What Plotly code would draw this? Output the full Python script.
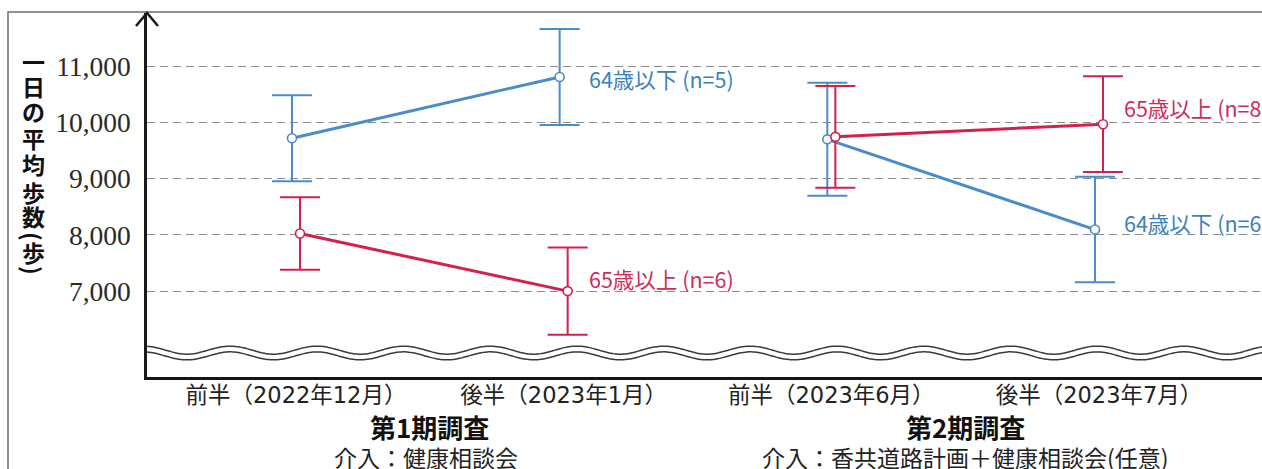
import numpy as np
import plotly.graph_objects as go

# ---------------- data ----------------
periods = ["前半（2022年12月）", "後半（2023年1月）", "前半（2023年6月）", "後半（2023年7月）"]
period_pos = [0, 1, 2, 3]
surveys = ["第1期調査", "第2期調査"]
interventions = ["介入：健康相談会", "介入：香共道路計画＋健康相談会(任意)"]

under64_mean = [9720, 10810, 9700, 8095]
under64_sd = [765, 855, 1005, 938]
under64_n = [5, 6]

over65_mean = [8025, 7000, 9745, 9970]
over65_sd = [646, 778, 905, 852]
over65_n = [6, 8]

y_ticks = [7000, 8000, 9000, 10000, 11000]
y_ticklabels = ["7,000", "8,000", "9,000", "10,000", "11,000"]
y_title = "一日の平均歩数（歩）"

# ---------------- layout constants ----------------
W, H = 1262, 469
ML, MR, MT, MB = 147, 0, 13, 92
XR = [-0.5566, 3.609]
YR = [5472, 11948]
BLUE = "#4A8CCB"
BLUE_T = "#3B82BD"
RED = "#D4204F"
RED_T = "#CF2C58"
JP = "Noto Sans CJK JP"
MIX = "DejaVu Sans, Noto Sans CJK JP"

fig = go.Figure()

groups = [
    dict(mean=under64_mean, sd=under64_sd, n=under64_n, color=BLUE, tcolor=BLUE_T,
         dodge=-0.015, label="64歳以下 (n={})", yshift=[-2, 7]),
    dict(mean=over65_mean, sd=over65_sd, n=over65_n, color=RED, tcolor=RED_T,
         dodge=0.015, label="65歳以上 (n={})", yshift=[13, 17]),
]

annotations = []
for g in groups:
    for s in range(2):
        idx = [2 * s, 2 * s + 1]
        fig.add_trace(go.Scatter(
            x=[period_pos[i] + g["dodge"] for i in idx],
            y=[g["mean"][i] for i in idx],
            mode="lines+markers",
            line=dict(color=g["color"], width=3),
            marker=dict(symbol="circle", size=9, color="white",
                        line=dict(color=g["color"], width=1.6)),
            error_y=dict(type="data", array=[g["sd"][i] for i in idx],
                         color=g["color"], thickness=2, width=20),
            showlegend=False, hoverinfo="skip",
        ))
        last = idx[1]
        annotations.append(dict(
            x=period_pos[last], y=g["mean"][last], xref="x", yref="y",
            text=g["label"].format(g["n"][s]), showarrow=False,
            xanchor="left", yanchor="middle", xshift=23, yshift=g["yshift"][s],
            font=dict(family=JP, size=21.5, color=g["tcolor"]),
        ))

# survey headers and interventions
for s in range(2):
    cx = (period_pos[2 * s] + period_pos[2 * s + 1]) / 2
    annotations.append(dict(
        x=cx, y=0, xref="x", yref="paper", text="<b>" + surveys[s] + "</b>",
        showarrow=False, xanchor="center", yanchor="middle", yshift=-49,
        font=dict(family=JP, size=26, color="#111111"),
    ))
    annotations.append(dict(
        x=cx, y=0, xref="x", yref="paper", text=interventions[s],
        showarrow=False, xanchor="center", yanchor="middle", yshift=-80,
        xshift=-4 if s == 0 else 0,
        font=dict(family=JP, size=23, color="#222222"),
    ))

# vertical y-axis title, one character per line (brackets turned for vertical writing)
title_px = [61, 86, 111, 138, 164, 192, 216, 236, 252, 270]
plot_h = H - MT - MB
for ch, py in zip(y_title, title_px):
    is_br = ch in "（）"
    annotations.append(dict(
        x=0, y=(H - MB - py) / plot_h, xref="paper", yref="paper",
        text="<b>" + {"（": "(", "）": ")"}.get(ch, ch) + "</b>", showarrow=False,
        xanchor="center", yanchor="middle", xshift=33 - ML,
        textangle=90 if is_br else 0,
        font=dict(family=JP, size=23, color="#111111"),
    ))

# ---------------- decorations: axis break wave, arrow, frame ----------------
plot_w = W - ML - MR
def px2x(px):
    return XR[0] + (px - ML) / plot_w * (XR[1] - XR[0])
def py2y(py):
    return YR[0] + (H - MB - py) / plot_h * (YR[1] - YR[0])

pxs = np.arange(ML, W + 2, 2.0)
pys = 353 - 4 * np.cos(2 * np.pi * (pxs - 143.5) / 86.7)
path = "M " + " L ".join(f"{px2x(a):.5f},{py2y(b):.2f}" for a, b in zip(pxs, pys))

shapes = [
    dict(type="path", path=path, xref="x", yref="y", layer="above",
         line=dict(color="#3a3a3a", width=7.2)),
    dict(type="path", path=path, xref="x", yref="y", layer="above",
         line=dict(color="white", width=4.2)),
    dict(type="path", xref="paper", yref="paper", xsizemode="pixel", ysizemode="pixel",
         xanchor=0, yanchor=1, path="M -11,-13 L 0,0 L 11,-13",
         line=dict(color="#1a1a1a", width=2.5)),
    dict(type="rect", xref="paper", yref="paper",
         x0=(8 - ML) / plot_w, x1=1.2, y0=-0.6, y1=(H - MB - 12) / plot_h,
         line=dict(color="#6e6e6e", width=1.5), layer="below"),
]

fig.update_layout(
    width=W, height=H,
    margin=dict(l=ML, r=MR, t=MT, b=MB),
    paper_bgcolor="white", plot_bgcolor="white",
    annotations=annotations, shapes=shapes,
    xaxis=dict(range=XR, tickvals=period_pos, ticktext=periods,
               tickfont=dict(family=MIX, size=22.5, color="#222222"),
               showgrid=False, zeroline=False, showline=True,
               linecolor="#151515", linewidth=3, ticks="", ticklabelstandoff=-4,
               fixedrange=True),
    yaxis=dict(range=YR, tickvals=y_ticks, ticktext=y_ticklabels,
               tickfont=dict(family="Liberation Serif", size=27.5, color="#2a2a2a"),
               showgrid=True, gridcolor="#8c8c8c", gridwidth=1.3, griddash="8px,5px",
               zeroline=False, showline=True, linecolor="#1a1a1a", linewidth=2.5,
               ticks="", ticklabelstandoff=8, fixedrange=True),
    showlegend=False,
)

fig.write_html("out.html")
